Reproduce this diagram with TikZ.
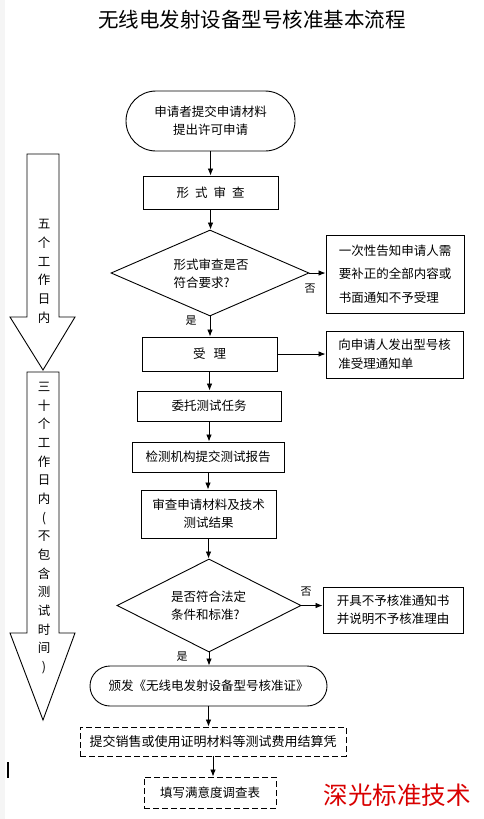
\documentclass[tikz,border=0pt]{standalone}
\usepackage{fontspec}
\setmainfont{Noto Sans CJK SC}
\usetikzlibrary{arrows.meta,shapes.geometric}
\newcommand\fs{\fontsize{12.5}{18}\selectfont}
\newcommand\fsv{\fontsize{12.5}{18.67}\selectfont}
\newcommand\fsl{\fontsize{11}{13}\selectfont}
\tikzset{
  box/.style={draw, line width=0.9pt, inner sep=0pt, align=center, font=\fs},
  term/.style={box, rounded corners=#1},
  dbox/.style={box, dash pattern=on 6pt off 3pt},
  dia/.style={draw, diamond, line width=0.9pt, inner sep=0pt},
  txt/.style={inner sep=0pt, align=left, font=\fs},
  lbl/.style={inner sep=0pt, font=\fsl},
  arr/.style={-{Latex[length=7pt,width=5.5pt]}, line width=0.8pt},
  bigarrow/.style={draw, line width=0.9pt},
}
\begin{document}
\begin{tikzpicture}[x=1pt,y=-1pt]
\useasboundingbox (0,0) rectangle (484,819);
\fill[white] (0,0) rectangle (484,819);
\fill[black!4] (0,0) rectangle (5,819);

\node[inner sep=0pt, font=\fontsize{20.5}{24}\selectfont] (title) at (252,20) {无线电发射设备型号核准基本流程};

% main flow
\node[term=30pt, minimum width=169pt, minimum height=60pt] (start) at (210.5,121) {申请者提交申请材料\\提出许可申请};
\node[box, minimum width=135pt, minimum height=33pt] (s1) at (210.5,192.5) {形\hspace{6pt}式\hspace{6pt}审\hspace{6pt}查};
\node[dia, minimum width=198pt, minimum height=86pt] (d1) at (210,273) {};
\node[txt] (d1t) at (211,274) {形式审查是否\\符合要求?};
\node[box, minimum width=138pt, minimum height=78pt, font=\fontsize{12.5}{23.5}\selectfont, align=left] (r1) at (395,274) {一次性告知申请人需\\要补正的全部内容或\\书面通知不予受理};
\node[lbl] (no1) at (310,289) {否};
\node[lbl] (yes1) at (191,321) {是};
\node[box, minimum width=135pt, minimum height=34pt] (s2) at (209.5,354) {受\hspace{8pt}理};
\node[box, minimum width=137pt, minimum height=47pt, font=\fontsize{12.5}{19}\selectfont, align=left] (r2) at (394.5,354.5) {向申请人发出型号核\\准受理通知单};
\node[box, minimum width=144pt, minimum height=30pt] (s3) at (209,406) {委托测试任务};
\node[box, minimum width=152pt, minimum height=30pt] (s4) at (208,457) {检测机构提交测试报告};
\node[box, minimum width=135pt, minimum height=48pt] (s5) at (208.5,514) {审查申请材料及技术\\测试结果};
\node[dia, minimum width=184pt, minimum height=93pt] (d2) at (209,605.5) {};
\node[txt] (d2t) at (208.5,605.5) {是否符合法定\\条件和标准?};
\node[lbl] (no2) at (306,592) {否};
\node[box, minimum width=140pt, minimum height=46pt, align=left] (r3) at (393,610) {开具不予核准通知书\\并说明不予核准理由};
\node[lbl] (yes2) at (182,657) {是};
\node[term=20pt, minimum width=237pt, minimum height=40pt] (end) at (208.5,686) {颁发《无线电发射设备型号核准证》};
\node[dbox, minimum width=266pt, minimum height=29pt, font=\fontsize{13}{18}\selectfont] (e1) at (213,741.5) {提交销售或使用证明材料等测试费用结算凭};
\node[dbox, minimum width=132pt, minimum height=31pt] (e2) at (210,792.5) {填写满意度调查表};

% connectors
\draw[arr] (start.south) -- (start.south |- s1.north);
\draw[arr] (s1.south) -- (s1.south |- d1.north);
\draw[arr] (d1.east) -- (r1.west |- d1.east);
\draw[arr] (d1.south) -- (d1.south |- s2.north);
\draw[arr] (s2.east) -- (r2.west |- s2.east);
\draw[arr] (s2.south) -- (s2.south |- s3.north);
\draw[arr] (s3.south) -- (s3.south |- s4.north);
\draw[arr] (s4.south) -- (s4.south |- s5.north);
\draw[arr] (s5.south) -- (s5.south |- d2.north);
\draw[arr] (d2.east) -- (r3.west |- d2.east);
\draw[arr] (d2.south) -- (d2.south |- end.north);
\draw[arr] (end.south) -- (end.south |- e1.north);
\draw[arr] (e1.south) -- (e1.south |- e2.north);

% left time arrows
\draw[bigarrow] (27,154) -- (59,154) -- (59,317) -- (75,317) -- (43,370) -- (10,317) -- (27,317) -- cycle;
\draw[bigarrow] (27,372) -- (59,372) -- (59,633) -- (75,633) -- (43,720) -- (10,633) -- (27,633) -- cycle;
\node[inner sep=0pt, align=center, font=\fsv] (t5) at (44,271.5) {五\\个\\工\\作\\日\\内};
\node[inner sep=0pt, align=center, font=\fsv] (t30) at (44,528) {三\\十\\个\\工\\作\\日\\内\\(\\不\\包\\含\\测\\试\\时\\间\\)};

% stray mark and watermark
\draw[line width=1.3pt] (8,762) -- (8,778);
\node[inner sep=0pt, text=red!85!black, font=\fontsize{24.5}{28}\selectfont] (wm) at (397,795) {深光标准技术};
\end{tikzpicture}
\end{document}
